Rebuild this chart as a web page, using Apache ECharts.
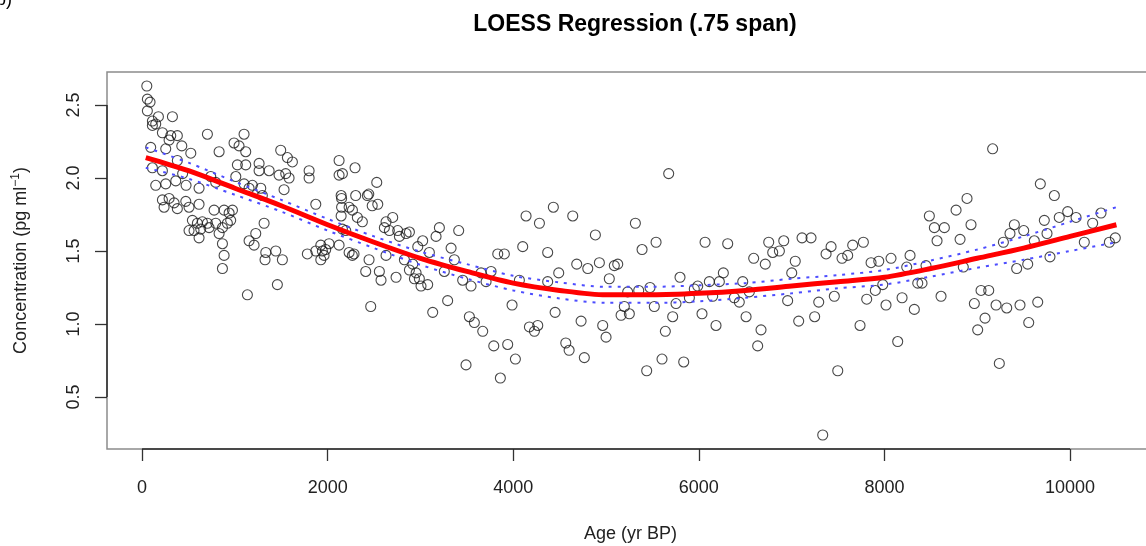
<!DOCTYPE html>
<html>
<head>
<meta charset="utf-8">
<script src="https://cdn.jsdelivr.net/npm/echarts@6/dist/echarts.min.js"></script>
<style>
html,body{margin:0;padding:0;background:#fff;}
#chart{width:1146px;height:546px;}
</style>
</head>
<body>
<div id="chart"></div>
<script>
// Observed samples: age (yr BP) and concentration (pg/ml)
const ages = [
51,57,86,57,176,111,147,111,327,219,309,380,291,704,1099,93,255,428,525,991,1045,1117,830,1494,1566,1620,2123,2295,
111,219,380,147,255,363,437,474,1027,1117,1261,1369,1261,740,794,1010,1099,614,1153,1189,1279,1296,1476,1548,1584,1800,1800,2123,2159,1530,
219,291,237,345,380,471,506,614,542,596,650,704,560,632,722,506,614,776,884,938,974,794,866,830,919,955,866,884,
1225,1153,1207,1315,1333,1441,1512,1781,1872,1926,1943,1979,2145,2150,2145,2150,2231,2267,2320,2374,2195,2159,2231,2284,1872,2015,2123,2302,2428,2480,
866,1135,1325,1458,1926,1961,2266,2446,2410,2464,
2529,2443,2540,2701,2629,2611,2665,2755,2845,2773,2881,3204,3168,3412,3024,2971,2629,3096,3330,3365,4138,4282,4432,4641,4885,4102,4371,3833,3904,
2557,2575,2737,2827,2881,2917,2935,2988,3006,3078,2953,3132,3257,3293,3455,3545,3527,3581,3671,3491,3653,3707,3761,3790,3940,3861,3987,4023,4066,
4174,4228,4264,4371,4451,4490,4566,4602,4684,4803,4928,4731,4766,4964,5000,5035,5089,5126,5162,5197,5251,5233,
5352,5474,5520,5797,5754,5718,5639,5603,5438,5837,5951,5988,5898,6113,6221,6264,6149,6034,6185,6473,6544,6382,6436,6509,6670,6634,
7001,6957,7076,7292,7248,7460,7497,7335,7737,7809,7902,7982,8017,
5675,5316,5388,5539,6067,6311,6591,6716,6753,6915,6796,6868,7039,7112,7209,7371,7425,7543,7604,7658,7773,7856,7939,8071,
8276,8240,8448,8359,8405,8190,8322,8143,8610,8850,8969,9041,9124,9084,9005,9203,9318,9238,9425,9544,9461,9652,9555,9784,
9166,9680,9831,8890,8772,8484,8538,8646,8933,8567,8815,9400,9353,9501,9282,9615,9723,9884,9975,10065,9752,10244,10334,10154,10424,10488
];
const conc = [
2.63,2.54,2.52,2.46,2.42,2.39,2.37,2.36,2.42,2.31,2.29,2.29,2.26,2.30,2.30,2.21,2.20,2.22,2.17,2.24,2.22,2.18,2.18,2.19,2.14,2.11,2.12,2.07,
2.07,2.05,2.12,1.95,1.96,1.98,2.03,1.95,2.09,2.09,2.10,2.05,2.05,2.01,1.97,2.01,1.96,1.93,1.93,1.95,1.93,1.88,2.02,2.03,2.00,2.05,2.00,2.02,2.03,1.92,
1.85,1.86,1.80,1.83,1.79,1.84,1.80,1.82,1.71,1.69,1.70,1.69,1.64,1.65,1.66,1.64,1.59,1.78,1.78,1.76,1.78,1.69,1.66,1.62,1.69,1.71,1.55,1.47,
1.62,1.57,1.54,1.69,1.49,1.50,1.44,1.48,1.82,1.54,1.50,1.51,1.88,1.86,1.74,1.80,1.80,1.78,1.73,1.70,1.64,1.65,1.49,1.48,1.50,1.55,1.54,1.88,1.88,1.81,
1.38,1.20,1.44,1.27,1.44,1.47,1.47,1.44,1.36,1.12,
1.97,1.89,1.82,1.73,1.70,1.66,1.64,1.64,1.62,1.60,1.63,1.66,1.60,1.64,1.57,1.53,1.47,1.49,1.52,1.44,1.74,1.69,1.80,1.74,1.61,1.53,1.49,1.48,1.48,
1.36,1.30,1.32,1.44,1.37,1.41,1.31,1.31,1.26,1.27,1.35,1.08,1.36,1.16,1.30,1.26,1.05,1.01,0.95,0.72,1.35,1.29,1.36,0.85,0.86,0.63,1.13,0.76,1.30,
0.98,0.95,0.99,1.29,1.08,1.35,0.87,0.82,1.41,1.38,1.42,1.02,0.77,0.99,0.91,1.31,1.40,1.41,1.06,1.12,1.07,1.22,
1.23,1.25,1.12,1.32,1.14,1.05,0.95,0.76,0.68,0.74,1.24,1.26,1.18,1.29,1.29,1.35,1.19,1.07,0.99,1.29,1.22,1.18,1.15,1.05,0.96,0.85,
1.35,1.16,1.02,1.15,1.05,1.19,0.68,0.24,0.99,1.17,1.23,1.27,1.13,
2.03,1.69,1.51,1.56,1.56,1.55,1.45,1.41,1.56,1.57,1.49,1.50,1.43,1.59,1.59,1.48,1.53,1.45,1.47,1.54,1.56,1.42,1.43,1.45,
1.47,1.39,1.40,1.28,1.28,1.18,1.10,0.88,1.19,1.39,1.14,1.23,1.23,1.04,0.96,1.13,1.11,0.73,1.38,1.41,1.13,1.15,1.01,1.46,
2.20,1.96,1.88,1.86,1.78,1.74,1.66,1.66,1.68,1.57,1.58,1.68,1.62,1.64,1.56,1.57,1.71,1.73,1.77,1.73,1.62,1.69,1.76,1.56,1.56,1.59
];
// LOESS fit (.75 span) and its confidence band
const loessAge   = [40,500,1000,1500,2000,2500,3000,3500,4000,4500,5000,5500,6000,6500,7000,7500,8000,8500,9000,9500,10000,10500];
const loessFit   = [2.14,2.05,1.93,1.81,1.68,1.56,1.45,1.36,1.28,1.23,1.20,1.20,1.21,1.23,1.26,1.29,1.32,1.38,1.45,1.52,1.60,1.68];
const loessUpper = [2.21,2.105,1.975,1.85,1.72,1.60,1.495,1.41,1.33,1.285,1.255,1.255,1.265,1.28,1.31,1.335,1.37,1.435,1.51,1.60,1.70,1.80];
const loessLower = [2.07,1.995,1.885,1.77,1.64,1.52,1.405,1.31,1.23,1.175,1.145,1.145,1.155,1.18,1.21,1.245,1.27,1.325,1.385,1.44,1.50,1.56];
// Tick labels
const xTicks = [0,2000,4000,6000,8000,10000];
const yTicks = [0.5,1.0,1.5,2.0,2.5];

// Axis ranges (R-style 4% padding)
const xMin = -378, xMax = 10905, yMin = 0.144, yMax = 2.726;

const pts = ages.map((a,i)=>[a,conc[i]]);
const pair = (ys)=>loessAge.map((a,i)=>[a,ys[i]]);

const FONT = 'Liberation Sans, Arial, Helvetica, sans-serif';
const chart = echarts.init(document.getElementById('chart'), null, {renderer:'canvas'});
const axisLineStyle = {color:'#2a2a2a',width:1.5};
chart.setOption({
  animation:false,
  backgroundColor:'#fff',
  textStyle:{fontFamily:FONT},
  title:{
    text:'LOESS Regression (.75 span)',
    left:630, top:8, textAlign:'center',
    textStyle:{fontFamily:FONT,fontSize:23,fontWeight:'bold',color:'#000'}
  },
  graphic:[{type:'text',left:-4,top:-9,style:{text:'b)',font:'18px '+FONT,fill:'#000'}}],
  grid:{left:107,top:72,width:1047,height:377,show:true,borderColor:'#8c8c8c',borderWidth:1.5,containLabel:false,outerBoundsMode:'none'},
  xAxis:{
    type:'value',min:xMin,max:xMax,
    axisLine:{show:false,onZero:false},
    splitLine:{show:false},
    axisTick:{show:true,length:12,lineStyle:{color:'#333',width:1.3},customValues:xTicks},
    axisLabel:{fontFamily:FONT,fontSize:18,color:'#222',margin:30,customValues:xTicks,formatter:v=>String(v)},
    name:'Age (yr BP)',nameLocation:'middle',nameGap:76,
    nameTextStyle:{fontFamily:FONT,fontSize:18,color:'#222'}
  },
  yAxis:{
    type:'value',min:yMin,max:yMax,
    axisLine:{show:false,onZero:false},
    splitLine:{show:false},
    axisTick:{show:true,length:12,lineStyle:{color:'#333',width:1.3},customValues:yTicks},
    axisLabel:{fontFamily:FONT,fontSize:18,color:'#222',margin:24,rotate:90,customValues:yTicks,formatter:v=>v.toFixed(1)},
    name:'{a|Concentration (pg ml}{s|−1}{a|)}',nameLocation:'middle',nameGap:75,nameRotate:90,
    nameTextStyle:{fontFamily:FONT,fontSize:18,color:'#222',
      rich:{a:{fontFamily:FONT,fontSize:18,color:'#222',lineHeight:22},s:{fontFamily:FONT,fontSize:12,color:'#222',verticalAlign:'top',lineHeight:22}}}
  },
  series:[
    // R-style axis lines spanning first to last tick
    {type:'line',data:[[xTicks[0],yMin],[xTicks[xTicks.length-1],yMin]],symbol:'none',silent:true,
      lineStyle:axisLineStyle,z:6,clip:false},
    {type:'line',data:[[xMin,yTicks[0]],[xMin,yTicks[yTicks.length-1]]],symbol:'none',silent:true,
      lineStyle:axisLineStyle,z:6,clip:false},
    {type:'scatter',data:pts,symbol:'circle',symbolSize:10,
      itemStyle:{color:'rgba(0,0,0,0)',borderColor:'#1a1a1a',borderWidth:1.1},silent:true,z:2},
    {type:'line',data:pair(loessFit),smooth:0.3,symbol:'none',
      lineStyle:{color:'#ff0000',width:5},z:4},
    {type:'line',data:pair(loessUpper),smooth:0.3,symbol:'none',
      lineStyle:{color:'#4d4dff',width:2,type:[3,6]},z:5},
    {type:'line',data:pair(loessLower),smooth:0.3,symbol:'none',
      lineStyle:{color:'#4d4dff',width:2,type:[3,6]},z:5}
  ]
});
</script>
</body>
</html>
